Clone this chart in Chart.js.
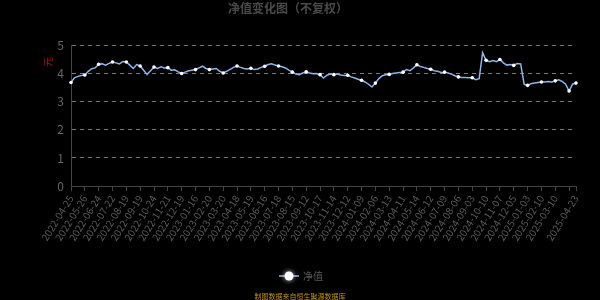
<!DOCTYPE html>
<html>
<head>
<meta charset="utf-8">
<script src="https://cdn.jsdelivr.net/npm/chart.js@4.4.1/dist/chart.umd.min.js"></script>
<style>
  html, body { margin: 0; padding: 0; background: #000; }
  #wrap { width: 600px; height: 300px; }
</style>
</head>
<body>
<div id="wrap"><canvas id="navChart" width="600" height="300"></canvas></div>
<script>
// tick labels shown on the x axis (one every 4 data points, plus the last day)
const tickLabels = [
  '2022-04-25', '2022-05-26', '2022-06-24', '2022-07-22', '2022-08-19', '2022-09-19',
  '2022-10-24', '2022-11-21', '2022-12-19', '2023-01-16', '2023-02-20', '2023-03-20',
  '2023-04-18', '2023-05-19', '2023-06-16', '2023-07-18', '2023-08-15', '2023-09-12',
  '2023-10-17', '2023-11-14', '2023-12-12', '2024-01-09', '2024-02-06', '2024-03-13',
  '2024-04-11', '2024-05-14', '2024-06-12', '2024-07-09', '2024-08-06', '2024-09-03',
  '2024-10-10', '2024-11-07', '2024-12-05', '2025-01-03', '2025-02-10', '2025-03-10',
  '2025-04-23'
];

// net value (about weekly)
const nav2022 = [
  3.68, 3.85, 3.90, 3.93,  3.95, 4.08, 4.17, 4.20,  4.33, 4.35, 4.30, 4.36,
  4.41, 4.38, 4.34, 4.43,  4.41, 4.30, 4.18, 4.32,  4.27, 4.12, 3.97, 4.10,
  4.23, 4.18, 4.24, 4.20,  4.21, 4.12, 4.13, 4.06,  4.00, 4.05, 4.10, 4.12
];
const nav2023 = [
  4.14, 4.20, 4.26, 4.18,  4.14, 4.16, 4.18, 4.08,  4.02, 4.08, 4.15, 4.22,
  4.27, 4.22, 4.18, 4.16,  4.19, 4.14, 4.16, 4.22,  4.26, 4.32, 4.35, 4.30,
  4.27, 4.24, 4.20, 4.12,  4.05, 3.98, 3.96, 4.02,  4.06, 4.02, 3.99, 4.00,
  3.96, 3.84, 3.94, 3.98,  3.96, 3.98, 3.95, 3.93,  3.94, 3.88, 3.84, 3.80
];
const nav2024 = [
  3.76, 3.70, 3.62, 3.52,  3.66, 3.82, 3.92, 3.96,  3.97, 4.00, 4.02, 4.04,
  4.05, 4.14, 4.10, 4.20,  4.31, 4.25, 4.22, 4.18,  4.15, 4.10, 4.08, 4.04,
  4.05, 4.02, 3.98, 3.92,  3.88, 3.86, 3.86, 3.85,  3.85, 3.78, 3.82, 4.74,
  4.47, 4.42, 4.46, 4.42,  4.50, 4.38, 4.30, 4.32,  4.29, 4.36, 4.34, 3.62
];
const nav2025 = [
  3.58, 3.64, 3.66, 3.68,  3.70, 3.70, 3.72, 3.70,  3.74, 3.78, 3.72, 3.62,
  3.38, 3.62, 3.66
];

const navValues = nav2022.concat(nav2023, nav2024, nav2025);
const STEP = 4;
const lastIdx = navValues.length - 1;
const labels = navValues.map((v, i) => String(i));

const lineColor = '#8fb4ea';
const textGray = '#5a5a5a';

// y axis name, legend and footer note
const extrasPlugin = {
  id: 'extras',
  afterDraw(chart) {
    const ctx = chart.ctx;
    ctx.save();
    // axis name
    ctx.translate(48, 62);
    ctx.rotate(-Math.PI / 2);
    ctx.fillStyle = '#b01010';
    ctx.font = '10px "Noto Sans CJK SC", sans-serif';
    ctx.textAlign = 'center';
    ctx.textBaseline = 'middle';
    ctx.fillText('元', 0, 0);
    ctx.restore();

    // legend
    ctx.save();
    ctx.strokeStyle = lineColor;
    ctx.lineWidth = 1.5;
    ctx.beginPath();
    ctx.moveTo(279, 276);
    ctx.lineTo(299, 276);
    ctx.stroke();
    ctx.shadowColor = 'rgba(255,255,255,0.8)';
    ctx.shadowBlur = 5;
    ctx.fillStyle = '#fff';
    ctx.beginPath();
    ctx.arc(289, 276, 4.5, 0, Math.PI * 2);
    ctx.fill();
    ctx.shadowBlur = 0;
    ctx.fillStyle = textGray;
    ctx.font = '10px "Noto Sans CJK SC", sans-serif';
    ctx.textAlign = 'left';
    ctx.textBaseline = 'middle';
    ctx.fillText('净值', 303, 276);

    // footer
    ctx.fillStyle = '#c0901e';
    ctx.font = '7px "Noto Sans CJK SC", sans-serif';
    ctx.textAlign = 'center';
    ctx.fillText('制图数据来自恒生聚源数据库', 300, 296);
    ctx.restore();
  }
};

new Chart(document.getElementById('navChart'), {
  type: 'line',
  data: {
    labels: labels,
    datasets: [{
      label: '净值',
      data: navValues,
      borderColor: lineColor,
      borderWidth: 1.5,
      tension: 0,
      pointRadius: c => (c.dataIndex % STEP === 0 || c.dataIndex === lastIdx) ? 1.8 : 0,
      pointBackgroundColor: '#ffffff',
      pointBorderColor: '#ffffff',
      pointBorderWidth: 0
    }]
  },
  options: {
    responsive: false,
    animation: false,
    layout: { padding: { left: 0, right: 24, top: 0, bottom: 55 } },
    plugins: {
      legend: { display: false },
      tooltip: { enabled: false },
      title: {
        display: true,
        text: '净值变化图（不复权）',
        color: '#4a4a4a',
        font: { size: 12, weight: 'bold', family: '"Noto Sans CJK SC", sans-serif' },
        padding: { top: 1, bottom: 30 }
      }
    },
    scales: {
      x: {
        offset: false,
        grid: { drawOnChartArea: false, color: '#444', tickLength: 5 },
        border: { color: '#444' },
        ticks: {
          autoSkip: false,
          maxRotation: 58,
          minRotation: 58,
          padding: 2,
          color: textGray,
          font: { size: 10, family: '"Noto Sans CJK SC", sans-serif' },
          callback: function(val, idx) {
            if (idx === lastIdx) return tickLabels[tickLabels.length - 1];
            if (idx % STEP !== 0) return null;
            const k = idx / STEP;
            return k < tickLabels.length - 1 ? tickLabels[k] : '';
          }
        }
      },
      y: {
        min: 0,
        max: 5,
        afterFit: s => { s.width = 71; },
        grid: {
          color: c => c.tick.value === 0 ? 'rgba(0,0,0,0)' : '#7a7a7a',
          drawTicks: false
        },
        border: { color: '#444', dash: [4, 4] },
        ticks: {
          stepSize: 1,
          padding: 7,
          color: '#666',
          font: { size: 12, family: '"Noto Sans CJK SC", sans-serif' }
        }
      }
    }
  },
  plugins: [extrasPlugin]
});
</script>
</body>
</html>
